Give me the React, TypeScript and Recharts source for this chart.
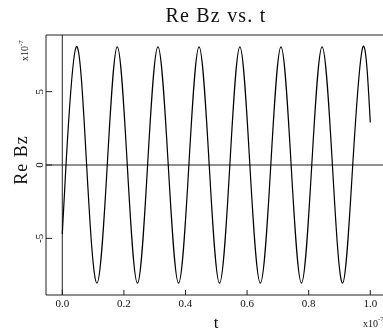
import { LineChart, Line, XAxis, YAxis, ReferenceLine } from "recharts";

// samples of Re Bz (x10^-7) over t (x10^-7): zero crossings and extrema
const tPoints = [
  0, 0.012, 0.0455, 0.079, 0.1125, 0.146, 0.1785, 0.211, 0.244, 0.277, 0.3105,
  0.344, 0.3775, 0.411, 0.444, 0.477, 0.5105, 0.544, 0.5765, 0.609, 0.643,
  0.677, 0.71, 0.743, 0.7765, 0.81, 0.8435, 0.877, 0.91, 0.943, 0.976, 1.0,
];
const reBz = [
  -4.7, 0, 8.05, 0, -8.05, 0, 8.05, 0, -8.05, 0, 8.05, 0, -8.05, 0, 8.05, 0,
  -8.05, 0, 8.05, 0, -8.05, 0, 8.05, 0, -8.05, 0, 8.05, 0, -8.05, 0, 8.05, 2.9,
];
const xTicks = [0, 0.2, 0.4, 0.6, 0.8, 1.0];
const yTicks = [-5, 0, 5];

const data = tPoints.map((t, i) => ({ t, bz: reBz[i] }));

const W = 390;
const H = 334;
const X_DOMAIN: [number, number] = [-0.0529, 1.051];
const Y_DOMAIN: [number, number] = [-8.86, 8.86];
const FONT = "'Liberation Serif', 'Times New Roman', serif";
const AXIS = "#222";

function XTick(props: any) {
  const { x, y, payload } = props;
  return (
    <g>
      <line x1={x} y1={y} x2={x} y2={y - 5} stroke={AXIS} />
      <text
        x={x}
        y={y + 12}
        textAnchor="middle"
        fontFamily={FONT}
        fontSize={11}
        fill="#111"
      >
        {Number(payload.value).toFixed(1)}
      </text>
    </g>
  );
}

function YTick(props: any) {
  const { x, y, payload } = props;
  return (
    <g>
      <line x1={x} y1={y} x2={x + 6} y2={y} stroke={AXIS} />
      <text
        x={x - 7}
        y={y}
        textAnchor="middle"
        dominantBaseline="central"
        fontFamily={FONT}
        fontSize={11}
        fill="#111"
        transform={`rotate(-90, ${x - 7}, ${y})`}
      >
        {payload.value}
      </text>
    </g>
  );
}

export default function App() {
  return (
    <div style={{ position: "fixed", left: 0, top: 0, width: W, height: H }}>
      <LineChart
        width={W}
        height={H}
        data={data}
        margin={{ top: 35, right: 4, bottom: 0, left: 0 }}
      >
        <XAxis
          dataKey="t"
          type="number"
          domain={X_DOMAIN}
          allowDataOverflow
          ticks={xTicks}
          height={39}
          tickSize={0}
          tickMargin={0}
          tick={<XTick />}
          axisLine={{ stroke: AXIS }}
          tickLine={false}
        />
        <YAxis
          type="number"
          domain={Y_DOMAIN}
          allowDataOverflow
          ticks={yTicks}
          width={46}
          tickSize={0}
          tickMargin={0}
          tick={<YTick />}
          axisLine={{ stroke: AXIS }}
          tickLine={false}
        />
        <ReferenceLine y={Y_DOMAIN[1]} stroke={AXIS} />
        <ReferenceLine y={0} stroke={AXIS} />
        <ReferenceLine x={0} stroke={AXIS} />
        <Line
          type="natural"
          dataKey="bz"
          stroke="#000"
          strokeWidth={1.2}
          dot={false}
          isAnimationActive={false}
        />
      </LineChart>
      <svg
        width={383}
        height={H}
        style={{ position: "absolute", left: 0, top: 0, pointerEvents: "none" }}
        fontFamily={FONT}
        fill="#111"
      >
        <text
          x={216}
          y={22}
          textAnchor="middle"
          fontSize={20}
          letterSpacing={1.2}
        >
          Re Bz vs. t
        </text>
        <text
          transform="translate(27, 160) rotate(-90)"
          textAnchor="middle"
          fontSize={18}
          letterSpacing={1}
        >
          Re Bz
        </text>
        <text transform="translate(28, 61) rotate(-90)" fontSize={10}>
          x10
          <tspan dy={-5} fontSize={7}>
            -7
          </tspan>
        </text>
        <text x={216} y={328} textAnchor="middle" fontSize={17}>
          t
        </text>
        <text x={363} y={327} fontSize={10}>
          x10
          <tspan dy={-6} fontSize={7}>
            -7
          </tspan>
        </text>
      </svg>
    </div>
  );
}
